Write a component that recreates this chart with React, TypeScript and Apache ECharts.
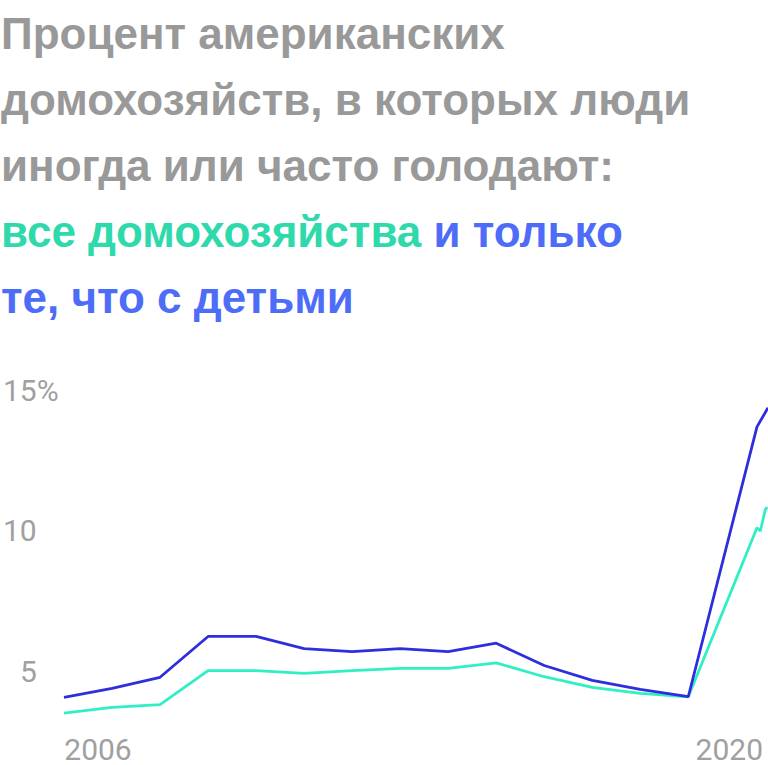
import React, { useEffect, useRef } from "react";
import * as echarts from "echarts";

const titleLines = [
  "Процент американских",
  "домохозяйств, в которых люди",
  "иногда или часто голодают:",
];
const titleGreen = "все домохозяйства";
const titleBlue1 = "и только";
const titleBlue2 = "те, что с детьми";

const xLabelValues = [2006, 2020];
const yLabelValues = [5, 10, 15];

// households with children
const childX = [2006, 2007, 2008, 2009, 2010, 2011, 2012, 2013, 2014, 2015, 2016, 2017, 2018, 2019, 2020.43, 2020.6, 2020.66];
const childY = [4.09, 4.41, 4.8, 6.25, 6.25, 5.82, 5.71, 5.82, 5.71, 6.01, 5.22, 4.69, 4.37, 4.11, 13.69, 14.19, 14.37];

// all households
const allX = [2006, 2007, 2008, 2009, 2010, 2011, 2012, 2013, 2014, 2015, 2016, 2017, 2018, 2019, 2020.43, 2020.5, 2020.6, 2020.64];
const allY = [3.53, 3.73, 3.83, 5.04, 5.04, 4.94, 5.04, 5.12, 5.12, 5.31, 4.82, 4.44, 4.23, 4.11, 10.11, 9.99, 10.73, 10.85];

const GREY = "#999999";
const GREEN_T = "#2ed9ab";
const BLUE_T = "#4d6cf7";
const BLUE_L = "#2e2edc";
const GREEN_L = "#30efc4";

export default function App() {
  const ref = useRef<HTMLDivElement>(null);
  useEffect(() => {
    if (!ref.current) return;
    const chart = echarts.init(ref.current, undefined, { renderer: "svg" });
    const titleText =
      titleLines.map((l) => `{g|${l}}`).join("\n") +
      `\n{c|${titleGreen}}{g| }{b|${titleBlue1}}\n{b|${titleBlue2}}`;
    const tStyle = { fontSize: 44, fontWeight: 700, fontFamily: "Liberation Sans", lineHeight: 66 };
    chart.setOption({
      animation: false,
      title: {
        text: titleText,
        left: 1,
        top: 0,
        padding: 0,
        textStyle: {
          ...tStyle,
          rich: {
            g: { ...tStyle, color: GREY },
            c: { ...tStyle, color: GREEN_T },
            b: { ...tStyle, color: BLUE_T },
          },
        },
      },
      grid: { left: 63, right: 0, top: 390, bottom: 37, containLabel: false },
      xAxis: {
        type: "value",
        min: 2006,
        max: 2020.66,
        axisLine: { show: false },
        axisTick: { show: false },
        splitLine: { show: false },
        axisLabel: {
          customValues: xLabelValues,
          margin: 6,
          formatter: (v: number) => (v === xLabelValues[0] ? `{l|${v}}` : `{r|${v}}`),
          rich: {
            l: { fontSize: 30, fontFamily: "Roboto", color: "#a0a0a0", padding: [0, 0, 0, 68] },
            r: { fontSize: 30, fontFamily: "Roboto", color: "#a0a0a0", padding: [0, 14, 0, 0] },
          },
        },
      },
      yAxis: {
        type: "value",
        min: 3,
        max: 15,
        axisLine: { show: false },
        axisTick: { show: false },
        splitLine: { show: false },
        axisLabel: {
          customValues: yLabelValues,
          align: "left",
          margin: 61,
          formatter: (v: number) =>
            v === 15 ? `{n|${v}%}` : v < 10 ? `{p|${v}}` : `{n|${v}}`,
          rich: {
            n: { fontSize: 30, fontFamily: "Roboto", color: "#a0a0a0" },
            p: { fontSize: 30, fontFamily: "Roboto", color: "#a0a0a0", padding: [0, 0, 0, 17] },
          },
        },
      },
      series: [
        {
          type: "line",
          data: allX.map((x, i) => [x, allY[i]]),
          showSymbol: false,
          lineStyle: { color: GREEN_L, width: 2.8 },
          itemStyle: { color: GREEN_L },
        },
        {
          type: "line",
          data: childX.map((x, i) => [x, childY[i]]),
          showSymbol: false,
          lineStyle: { color: BLUE_L, width: 2.8 },
          itemStyle: { color: BLUE_L },
        },
      ],
    });
    return () => chart.dispose();
  }, []);
  return (
    <div
      ref={ref}
      style={{ position: "fixed", left: 0, top: 0, width: 768, height: 765, background: "#fff" }}
    />
  );
}
